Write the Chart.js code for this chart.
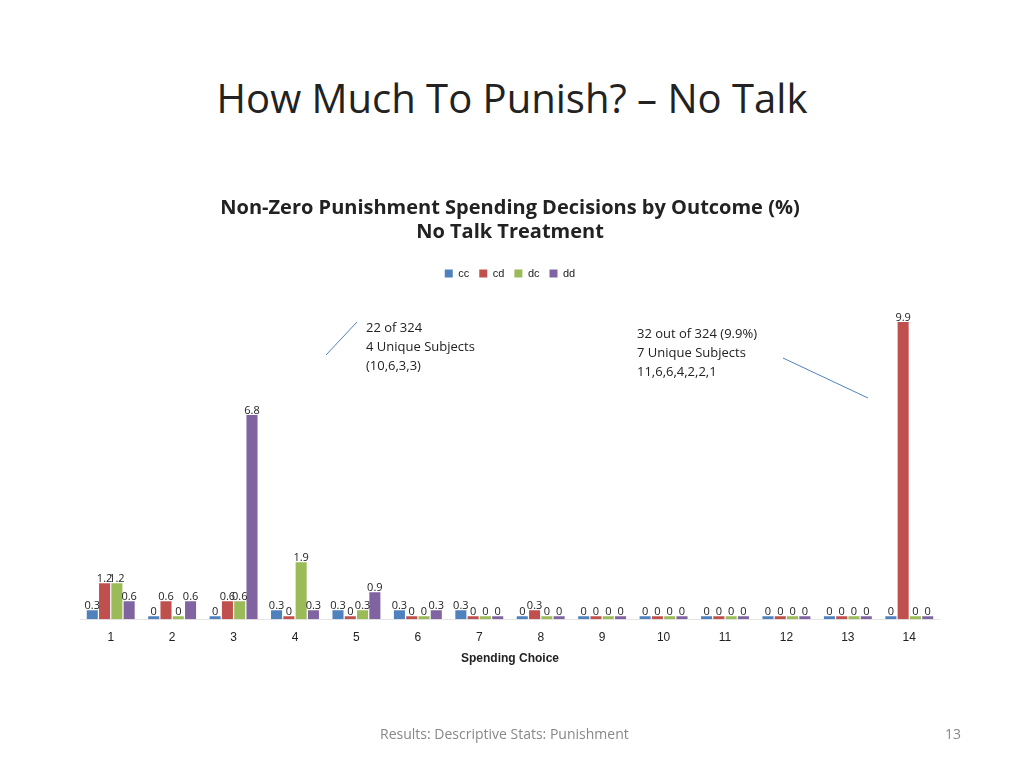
<!DOCTYPE html>
<html><head><meta charset="utf-8">
<script src="https://cdn.jsdelivr.net/npm/chart.js"></script>
<style>
body{margin:0;width:1024px;height:768px;background:#fff;font-family:Calibri,Carlito,"Open Sans",sans-serif;position:relative;overflow:hidden}
#t{position:absolute;top:70px;left:0;width:1024px;text-align:center;font-size:40px;color:#222;font-family:"Open Sans",sans-serif}
#c{position:absolute;left:80px;top:196px;width:860px;height:474px}
#f{position:absolute;top:724px;left:380px;font-size:14px;color:#888;font-family:"Open Sans",sans-serif}
#n{position:absolute;top:724px;left:945px;font-size:14px;color:#888;font-family:"Open Sans",sans-serif}
.a{position:absolute;font-size:13px;color:#222;font-family:"Open Sans",sans-serif;line-height:19px}
</style></head><body>
<div id="t">How Much To Punish? – No Talk</div>
<div id="c"><canvas id="cv"></canvas></div>
<div class="a" style="left:366px;top:318px">22 of 324<br>4 Unique Subjects<br>(10,6,3,3)</div>
<div class="a" style="left:637px;top:324px">32 out of 324 (9.9%)<br>7 Unique Subjects<br>11,6,6,4,2,2,1</div>
<svg style="position:absolute;left:0;top:0" width="1024" height="768">
<line x1="357" y1="322" x2="326" y2="355" stroke="#4F81BD"/>
<line x1="783" y1="358" x2="868" y2="398" stroke="#4F81BD"/>
</svg>
<div id="f">Results: Descriptive Stats: Punishment</div>
<div id="n">13</div>
<script>
const categories=["1","2","3","4","5","6","7","8","9","10","11","12","13","14"];
const cc=[0.3,0,0,0.3,0.3,0.3,0.3,0,0,0,0,0,0,0];
const cd=[1.2,0.6,0.6,0,0,0,0,0.3,0,0,0,0,0,9.9];
const dc=[1.2,0,0.6,1.9,0.3,0,0,0,0,0,0,0,0,0];
const dd=[0.6,0.6,6.8,0.3,0.9,0.3,0,0,0,0,0,0,0,0];
const labelsPlugin={id:'lbl',afterDatasetsDraw(ch){const x=ch.ctx;x.save();x.font='11px "Open Sans"';x.fillStyle='#222';x.textAlign='center';
ch.data.datasets.forEach((d,i)=>{ch.getDatasetMeta(i).data.forEach((b,j)=>{x.fillText(String(d.data[j]),b.x,b.y-4);});});x.restore();}};
const mk=(l,d,c)=>({label:l,data:d,backgroundColor:c,minBarLength:3,categoryPercentage:0.8,barPercentage:0.9});
new Chart(document.getElementById('cv'),{type:'bar',
data:{labels:categories,datasets:[mk('cc',cc,'#4F81BD'),mk('cd',cd,'#C0504D'),mk('dc',dc,'#9BBB59'),mk('dd',dd,'#8064A2')]},
options:{responsive:true,maintainAspectRatio:false,animation:false,
plugins:{title:{display:true,text:['Non-Zero Punishment Spending Decisions by Outcome (%)','No Talk Treatment'],font:{size:20,weight:'bold',family:'"Open Sans"'},color:'#222',padding:{bottom:14}},
legend:{labels:{boxWidth:8,boxHeight:8,font:{size:11},color:'#222'}},tooltip:{enabled:false}},
scales:{y:{display:false,min:0,max:11},x:{grid:{display:false},ticks:{color:'#222',font:{size:12}},title:{display:true,text:'Spending Choice',font:{size:12,weight:'bold'},color:'#222'}}}},
plugins:[labelsPlugin]});
</script></body></html>
